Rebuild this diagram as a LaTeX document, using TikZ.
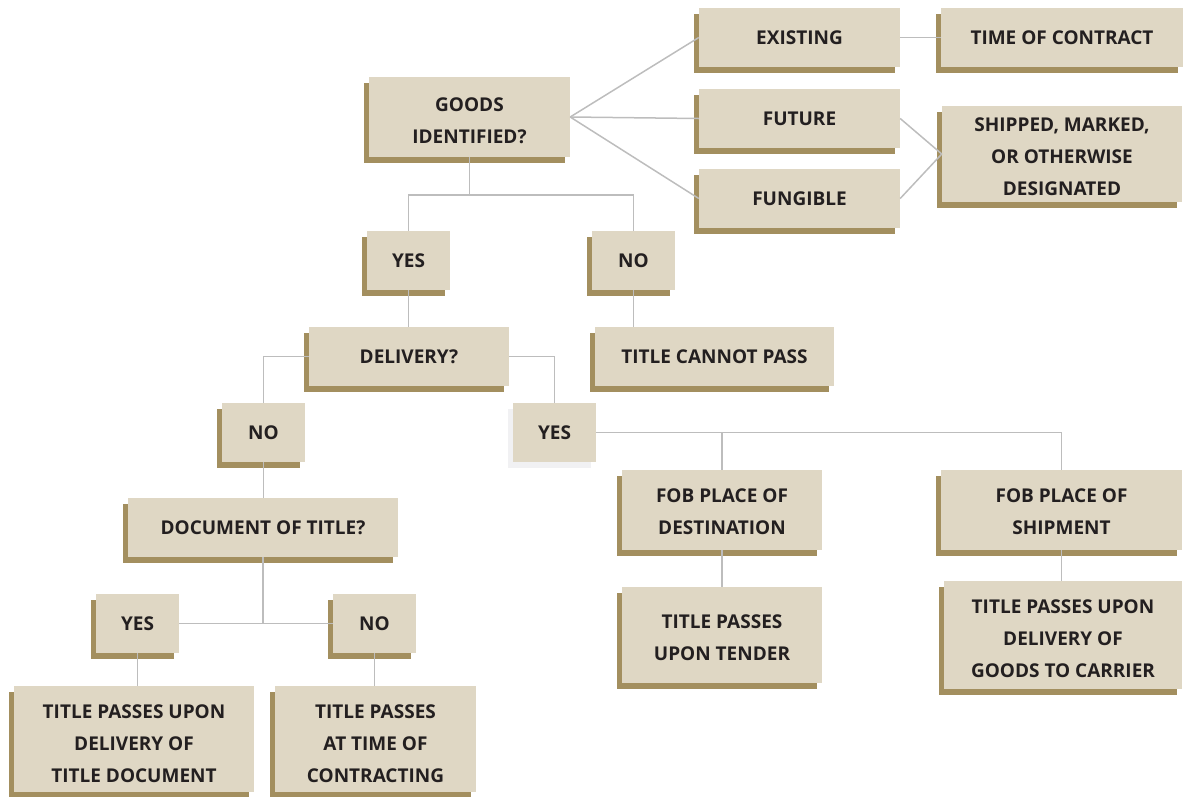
\documentclass[tikz,border=0pt]{standalone}
\usepackage{fontspec}
\setmainfont{Open Sans}
\usetikzlibrary{shadows}
\definecolor{boxfill}{HTML}{DFD7C4}
\definecolor{boxshadow}{HTML}{A38F5F}
\definecolor{lightshadow}{HTML}{F1F1F3}
\definecolor{linec}{HTML}{BDBDBD}
\definecolor{textc}{HTML}{231F20}
\newcommand\mltxt[2][4.5pt]{\raisebox{-#1}[\height][\depth]{\begin{tabular}{@{}c@{}}#2\end{tabular}}}
\tikzset{
  box/.style={fill=boxfill, inner sep=0pt, align=center, text=textc,
    font=\fontsize{19}{32}\selectfont\bfseries,
    general shadow={fill=boxshadow, shadow xshift=-5pt, shadow yshift=-6pt}},
  lbox/.style={fill=boxfill, inner sep=0pt, align=center, text=textc,
    font=\fontsize{19}{32}\selectfont\bfseries,
    general shadow={fill=lightshadow, shadow xshift=-5pt, shadow yshift=-6pt}},
  conn/.style={draw=linec, line width=1.5pt}
}
\begin{document}
\begin{tikzpicture}[x=1pt,y=-1pt]
\useasboundingbox (0,0) rectangle (1184,796);
% top group
\node[box, minimum width=201pt, minimum height=80pt] (goods) at (469.5,117) {\mltxt{GOODS\\IDENTIFIED?}};
\node[box, minimum width=201pt, minimum height=59pt] (exist) at (799.5,37.5) {EXISTING};
\node[box, minimum width=242pt, minimum height=59pt] (time) at (1062,37.5) {TIME OF CONTRACT};
\node[box, minimum width=201pt, minimum height=59pt] (future) at (799.5,118.5) {FUTURE};
\node[box, minimum width=201pt, minimum height=59pt] (fung) at (799.5,198.5) {FUNGIBLE};
\node[box, minimum width=240pt, minimum height=96pt] (ship) at (1062,154) {\mltxt[3.5pt]{SHIPPED, MARKED,\\OR OTHERWISE\\DESIGNATED}};
% second level
\node[box, minimum width=83pt, minimum height=59pt] (yes1) at (408.5,260.5) {YES};
\node[box, minimum width=83pt, minimum height=59pt] (no1) at (633.5,260.5) {NO};
\node[box, minimum width=200pt, minimum height=59pt] (deliv) at (409,356.5) {DELIVERY?};
\node[box, minimum width=239pt, minimum height=59pt] (cannot) at (714.5,356.5) {TITLE CANNOT PASS};
\node[box, minimum width=83pt, minimum height=59pt] (no2) at (263.5,432.5) {NO};
\node[lbox, minimum width=83pt, minimum height=59pt] (yes2) at (554.5,432.5) {YES};
\node[box, minimum width=270pt, minimum height=59pt] (doc) at (263,527.5) {DOCUMENT OF TITLE?};
\node[box, minimum width=200pt, minimum height=80pt] (fobd) at (722,510) {\mltxt[2pt]{FOB PLACE OF\\DESTINATION}};
\node[box, minimum width=241pt, minimum height=80pt] (fobs) at (1061.5,510) {\mltxt[2pt]{FOB PLACE OF\\SHIPMENT}};
\node[box, minimum width=200pt, minimum height=96pt] (tender) at (722,635) {\mltxt[3.5pt]{TITLE PASSES\\UPON TENDER}};
\node[box, minimum width=238pt, minimum height=108pt] (carrier) at (1063,635) {\mltxt{TITLE PASSES UPON\\DELIVERY OF\\GOODS TO CARRIER}};
\node[box, minimum width=83pt, minimum height=59pt] (yes3) at (137.5,623.5) {YES};
\node[box, minimum width=83pt, minimum height=59pt] (no3) at (374.5,623.5) {NO};
\node[box, minimum width=240pt, minimum height=106pt] (tdoc) at (134,739) {\mltxt[5pt]{TITLE PASSES UPON\\DELIVERY OF\\TITLE DOCUMENT}};
\node[box, minimum width=201pt, minimum height=106pt] (tcon) at (375.5,739) {\mltxt[5pt]{TITLE PASSES\\AT TIME OF\\CONTRACTING}};
% connectors
\draw[conn] (goods.east) -- (exist.west);
\draw[conn] (goods.east) -- (future.west);
\draw[conn] (goods.east) -- (fung.west);
\draw[conn] (exist.east) -- (time.west);
\draw[conn] (future.east) -- (ship.west);
\draw[conn] (fung.east) -- (ship.west);
\draw[conn] (goods.south) -- ++(0,38) coordinate (j1);
\draw[conn] (j1) -| (yes1.north);
\draw[conn] (j1) -| (no1.north);
\draw[conn] (yes1.south) -- (yes1.south |- deliv.north);
\draw[conn] (no1.south) -- (no1.south |- cannot.north);
\draw[conn] (deliv.west) -| (no2.north);
\draw[conn] (deliv.east) -| (yes2.north);
\draw[conn] (no2.south) -- (no2.south |- doc.north);
\draw[conn] (yes2.east) -| (fobs.north);
\draw[conn] (fobd.north) -- (fobd.north |- yes2.east);
\draw[conn] (fobd.south) -- (tender.north);
\draw[conn] (fobs.south) -- (fobs.south |- carrier.north);
\draw[conn] (yes3.east) -- (no3.west);
\draw[conn] (doc.south) -- (doc.south |- yes3.east);
\draw[conn] (yes3.south) -- (yes3.south |- tdoc.north);
\draw[conn] (no3.south) -- (no3.south |- tcon.north);
\end{tikzpicture}
\end{document}
